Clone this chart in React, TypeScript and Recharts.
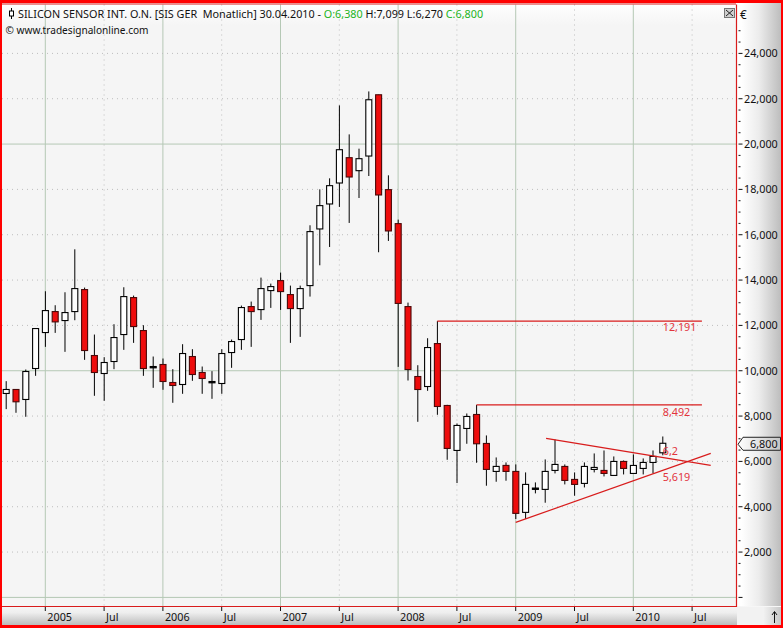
import React from "react";
import { ComposedChart, Bar, XAxis, YAxis, CartesianGrid, ReferenceLine, ReferenceDot } from "recharts";

const months = [
  "2004-09","2004-10","2004-11","2004-12",
  "2005-01","2005-02","2005-03","2005-04","2005-05","2005-06","2005-07","2005-08","2005-09","2005-10","2005-11","2005-12",
  "2006-01","2006-02","2006-03","2006-04","2006-05","2006-06","2006-07","2006-08","2006-09","2006-10","2006-11","2006-12",
  "2007-01","2007-02","2007-03","2007-04","2007-05","2007-06","2007-07","2007-08","2007-09","2007-10","2007-11","2007-12",
  "2008-01","2008-02","2008-03","2008-04","2008-05","2008-06","2008-07","2008-08","2008-09","2008-10","2008-11","2008-12",
  "2009-01","2009-02","2009-03","2009-04","2009-05","2009-06","2009-07","2009-08","2009-09","2009-10","2009-11","2009-12",
  "2010-01","2010-02","2010-03","2010-04",
];
const monthIndex = [
  -4,-3,-2,-1,
  0,1,2,3,4,5,6,7,8,9,10,11,
  12,13,14,15,16,17,18,19,20,21,22,23,
  24,25,26,27,28,29,30,31,32,33,34,35,
  36,37,38,39,40,41,42,43,44,45,46,47,
  48,49,50,51,52,53,54,55,56,57,58,59,
  60,61,62,63,
];
const opens = [
  8997,9173,8732,10098,
  11685,12610,12214,12610,13580,10671,9878,10407,11597,13227,11773,10186,
  10275,9481,9393,10627,9922,9525,9437,10803,11376,12831,12698,13536,
  13976,13360,12743,13756,16255,17357,18282,19399,18826,19472,22175,17989,
  16490,12830,9745,9304,11199,8467,6484,7453,8070,6792,5558,5823,
  5558,3751,4824,4765,5602,5778,5205,5029,5646,5602,5381,5998,
  5469,5690,5954,6380,
];
const highs = [
  9540,9173,10054,11861,
  13506,12890,13462,15357,13668,11597,10598,12052,13683,13315,12008,10627,
  10539,10069,11171,10950,10186,9981,10950,11376,12875,13051,14109,13844,
  14329,13756,13756,16417,18003,18488,21705,20427,19796,22322,22175,18620,
  16667,13006,10244,11434,12191,8496,7674,8114,8492,7145,6175,5955,
  5867,5514,5073,6087,6968,5866,5514,5954,6351,6483,6219,6042,
  6307,6131,6483,7099,
];
const lows = [
  8306,8145,7968,9775,
  11053,11670,10833,12228,10480,8894,8673,10069,10921,11229,9775,9246,
  9158,8585,8982,9555,8982,8761,8982,10128,10921,11053,12243,12772,
  12684,11229,11494,13271,14652,15460,17225,16520,17621,18591,15227,15726,
  10170,9569,7747,9113,8056,6072,5044,6778,5940,4927,5103,5147,
  3458,3458,4589,4177,5470,4985,4485,4852,5514,5337,5381,5425,
  5469,5425,5469,6270,
];
const closes = [
  9173,8630,9966,11861,
  12654,12155,12566,13624,10892,9922,10363,11464,13271,11949,10098,10128,
  9525,9349,10759,9834,9658,9467,10759,11288,12787,12610,13624,13712,
  13492,12743,13624,16138,17284,18165,19751,18547,19355,21955,17754,16167,
  12970,10053,9172,11023,8423,6572,7586,7982,6778,5646,5779,5558,
  3707,4985,4765,5558,5866,5161,4985,5778,5734,5469,5998,5690,
  5822,5954,6219,6800,
];

const yMajorValues = [0, 10000, 20000];
const yDottedValues = [2000, 4000, 6000, 8000, 12000, 14000, 16000, 18000, 22000, 24000];
const yTickValues = [
  0,500,1000,1500,2000,2500,3000,3500,4000,4500,5000,5500,6000,6500,7000,7500,8000,8500,9000,9500,10000,
  10500,11000,11500,12000,12500,13000,13500,14000,14500,15000,15500,16000,16500,17000,17500,18000,18500,19000,19500,20000,
  20500,21000,21500,22000,22500,23000,23500,24000,24500,25000,
];
const lastClose = 6800;
const xTickValues = [0, 6, 12, 18, 24, 30, 36, 42, 48, 54, 60, 66];
const xTickLabels = ["2005","Jul","2006","Jul","2007","Jul","2008","Jul","2009","Jul","2010","Jul"];
const xMajorValues = [0, 12, 24, 36, 48, 60];
const xDottedValues = [6, 18, 30, 42, 54, 66];

const resistanceStarts = [40, 44];
const resistanceEnd = 67;
const resistanceValues = [12191, 8492];
const upperTrendIndex = [51.1, 67.9];
const upperTrendValue = [7013, 5823];
const lowerTrendIndex = [48, 67.9];
const lowerTrendValue = [3310, 6352];
const noteTexts = ["12,191", "8,492", "6,2", "5,619"];
const noteValues = [12191, 8492, 6200, 5619];
const noteIndex = 63;

const titleParts = [
  { t: "SILICON SENSOR INT. O.N. [SIS GER\u00A0\u00A0Monatlich] 30.04.2010 - ", c: "#111" },
  { t: "O:6,380 ", c: "#22b422" },
  { t: "H:7,099 L:6,270 ", c: "#111" },
  { t: "C:6,800", c: "#22b422" },
];
const copyright = "\u00A9 www.tradesignalonline.com";

const FONT = "'Noto Sans', sans-serif";
const FS = 10.8;

const data = months.map((m, i) => ({
  month: m,
  idx: monthIndex[i],
  open: opens[i],
  high: highs[i],
  low: lows[i],
  close: closes[i],
  range: [lows[i], highs[i]],
}));

function Candle(props: any) {
  const { x, y, width, height, payload } = props;
  if (!payload || !(height > 0)) return null;
  const k = height / (payload.high - payload.low);
  const up = payload.close >= payload.open;
  const bodyHigh = Math.max(payload.open, payload.close);
  const bodyLow = Math.min(payload.open, payload.close);
  const top = y + (payload.high - bodyHigh) * k;
  const bottom = y + (payload.high - bodyLow) * k;
  const doji = bottom - top < 1.5;
  const cx = x + width / 2;
  return (
    <g>
      <line x1={cx} x2={cx} y1={y} y2={y + height} stroke="#000" strokeWidth={1} />
      <rect
        x={x}
        y={top}
        width={width}
        height={Math.max(bottom - top, 0.5)}
        fill={doji ? "#000" : up ? "#fff" : "#ee0c0c"}
        stroke={doji || up ? "#000" : "#4a0808"}
        strokeWidth={1.1}
      />
    </g>
  );
}

function YTick(props: any) {
  const { y, payload } = props;
  const x = props.x - 8;
  const v = payload.value;
  if (v === lastClose) {
    const l = x + 1.5;
    return (
      <g>
        <defs>
          <linearGradient id="tagFill" x1="0" x2="1" y1="0" y2="0">
            <stop offset="0" stopColor="#ffffff" />
            <stop offset="1" stopColor="#c4c4c4" />
          </linearGradient>
        </defs>
        <path
          d={`M${l} ${y + 1}L${l + 5} ${y - 6}H${l + 42.5}V${y + 7}H${l + 5}Z`}
          fill="url(#tagFill)"
          stroke="#222"
          strokeWidth={1}
        />
        <text x={l + 12} y={y + 5} fontFamily={FONT} fontSize={FS} fill="#111">
          6,800
        </text>
      </g>
    );
  }
  const major = v % 2000 === 0;
  return (
    <g>
      <line x1={x + 2} x2={x + (major ? 6 : 4)} y1={y} y2={y} stroke="#111" strokeWidth={1} />
      {major && v > 0 ? (
        <text x={x + 7.5} y={y + 4} fontFamily={FONT} fontSize={FS} fill="#111">
          {v.toLocaleString("en-US")}
        </text>
      ) : null}
    </g>
  );
}

function XTick(props: any) {
  const { x, payload } = props;
  const y = props.y - 8;
  const i = xTickValues.indexOf(payload.value);
  return (
    <g>
      <line x1={x} x2={x} y1={y + 1} y2={y + 5} stroke="#111" strokeWidth={1} />
      <text x={x + 2} y={y + 15} fontFamily={FONT} fontSize={FS} fill="#111">
        {xTickLabels[i]}
      </text>
    </g>
  );
}

function noteShape(text: string, dy: number) {
  return (p: any) => (
    <text x={p.cx} y={p.cy + dy + 4} fontFamily={FONT} fontSize={FS} fill="#e2343c">
      {text}
    </text>
  );
}
const noteOffsets = [6, 7, -6, 7];

const RED = "#d81c1c";

export default function App() {
  return (
    <div style={{ position: "absolute", left: 0, top: 0, width: 783, height: 628, background: "#f5f5f5", overflow: "hidden" }}>
      <div style={{ position: "absolute", left: 2, top: 3, width: 735, height: 22, background: "linear-gradient(#ffffff,#f5f5f5)" }} />
      <div style={{ position: "absolute", left: 737, top: 3, width: 44, height: 604, background: "linear-gradient(90deg,#ffffff 10%,#ececec 50%,#bdbdbd 100%)" }} />
      <div style={{ position: "absolute", left: 2, top: 606, width: 779, height: 19, background: "linear-gradient(#f7f7f7,#eeeeee 35%,#bcbcbc)" }} />
      <div style={{ position: "absolute", left: 737, top: 607, width: 44, height: 18, background: "linear-gradient(90deg,#f2f2f2,#f2f2f2 60%,#c8c8c8)" }} />
      <div style={{ position: "absolute", left: 0, top: 0 }}>
        <ComposedChart
          width={783}
          height={628}
          data={data}
          margin={{ top: 4.5, right: 0, bottom: 4, left: 2 }}
          barSize={6}
        >
          <CartesianGrid horizontal={false} vertical verticalValues={xMajorValues} stroke="#b5c8b5" strokeWidth={1} />
          <CartesianGrid horizontal vertical={false} horizontalValues={yMajorValues} stroke="#b5c8b5" strokeWidth={1} />
          <CartesianGrid horizontal={false} vertical verticalValues={xDottedValues} stroke="#bdbdbd" strokeDasharray="1 4" />
          <CartesianGrid horizontal vertical={false} horizontalValues={yDottedValues} stroke="#bdbdbd" strokeDasharray="1 4" />
          <XAxis
            dataKey="idx"
            type="number"
            domain={[-4.418, 70.53]}
            allowDataOverflow
            ticks={xTickValues}
            interval={0}
            height={18}
            axisLine={false}
            tickLine={false}
            tick={XTick}
          />
          <YAxis
            orientation="right"
            type="number"
            domain={[-379, 26157]}
            allowDataOverflow
            ticks={[...yTickValues, lastClose]}
            interval={0}
            width={46.5}
            axisLine={false}
            tickLine={false}
            tick={YTick}
          />
          <Bar dataKey="range" shape={Candle} isAnimationActive={false} />
          {resistanceValues.map((v, i) => (
            <ReferenceLine
              key={v}
              segment={[{ x: resistanceStarts[i], y: v }, { x: resistanceEnd, y: v }]}
              stroke={RED}
              strokeWidth={1.2}
            />
          ))}
          <ReferenceLine
            segment={[{ x: upperTrendIndex[0], y: upperTrendValue[0] }, { x: upperTrendIndex[1], y: upperTrendValue[1] }]}
            stroke={RED}
            strokeWidth={1.2}
          />
          <ReferenceLine
            segment={[{ x: lowerTrendIndex[0], y: lowerTrendValue[0] }, { x: lowerTrendIndex[1], y: lowerTrendValue[1] }]}
            stroke={RED}
            strokeWidth={1.2}
          />
          {noteTexts.map((t, i) => (
            <ReferenceDot key={t} x={noteIndex} y={noteValues[i]} r={0} shape={noteShape(t, noteOffsets[i])} />
          ))}
        </ComposedChart>
      </div>
      {/* header text */}
      <div style={{ position: "absolute", left: 18, top: 6, font: `${FS}px ${FONT}`, whiteSpace: "nowrap", lineHeight: "16px" }}>
        {titleParts.map((p) => (
          <span key={p.t} style={{ color: p.c }}>{p.t}</span>
        ))}
      </div>
      <div style={{ position: "absolute", left: 5.5, top: 22, font: `10.1px ${FONT}`, color: "#111", whiteSpace: "nowrap", lineHeight: "16px" }}>
        {copyright}
      </div>
      <svg style={{ position: "absolute", left: 0, top: 0 }} width={783} height={628}>
        <line x1={11.5} x2={11.5} y1={8} y2={19} stroke="#000" />
        <rect x={9.5} y={11} width={4} height={5} fill="#fff" stroke="#000" />
        <rect x={724.5} y={8.5} width={10} height={9} fill="#cfcfcf" stroke="#777" />
        <path d="M726 10L733 16M733 10L726 16" stroke="#222" />
        <path d="M736.5 4.5V606.5H2" fill="none" stroke={RED} strokeWidth={1.2} />
        <line x1={2} x2={736} y1={4} y2={4} stroke={RED} strokeWidth={1} />
        <path d="M774.5 623V612M772 615L774.5 611.5L777 615" fill="none" stroke="#111" />
      </svg>
      <div style={{ position: "absolute", left: 740, top: 6, font: `${FS + 1}px ${FONT}`, color: "#111", lineHeight: "16px" }}>€</div>
      <div style={{ position: "absolute", left: 0, top: 0, width: 783, height: 628, boxSizing: "border-box", borderStyle: "solid", borderColor: "#ff0000", borderWidth: "3px 2px 3px 2px" }} />
    </div>
  );
}
